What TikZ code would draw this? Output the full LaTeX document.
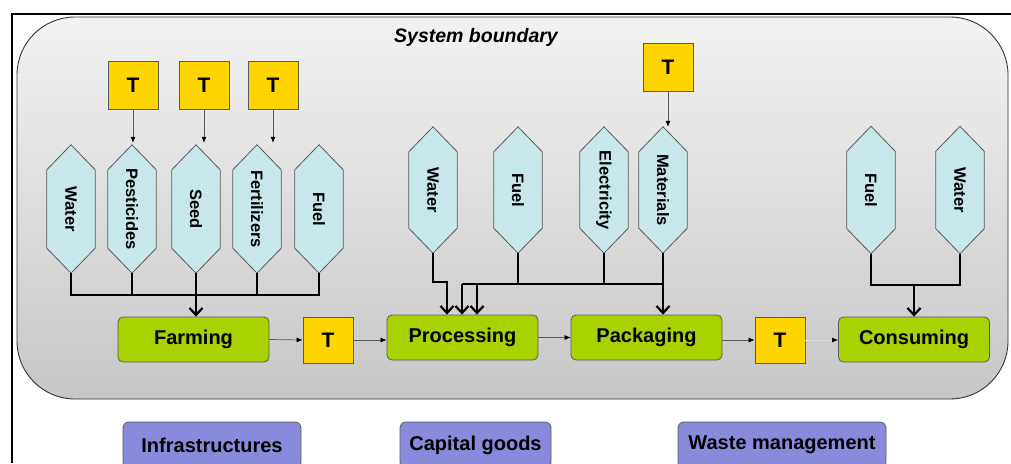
\documentclass[tikz,border=0pt]{standalone}
\usepackage{fontspec}
\setmainfont{Liberation Sans}
\usetikzlibrary{arrows.meta,calc}
\definecolor{hexfill}{HTML}{C8E7EB}
\definecolor{tfill}{HTML}{FFD500}
\definecolor{gfill}{HTML}{A8D200}
\definecolor{pfill}{HTML}{8A8ADC}
\definecolor{edgec}{HTML}{5A5A5A}
\newcommand{\mkhex}[5]{%
  \node[hexbox, minimum height=#4pt] (#1) at (#2,#3) {};
  \filldraw[hexline] (#1.north) -- ([yshift=-25pt]#1.north east) -- ([yshift=25pt]#1.south east) -- (#1.south) -- ([yshift=25pt]#1.south west) -- ([yshift=-25pt]#1.north west) -- cycle;
  \node[hextext,rotate=-90] (#1-t) at (#1) {#5};
}
\begin{document}
\begin{tikzpicture}[x=1pt,y=-1pt,
  hexbox/.style={inner sep=0pt, minimum width=48pt},
  hexline/.style={draw=edgec, fill=hexfill, line width=0.8pt},
  hextext/.style={inner sep=0pt, font=\bfseries\fontsize{16.5}{19}\selectfont},
  tbox/.style={draw=edgec, fill=tfill, line width=0.8pt, minimum width=50pt, minimum height=48pt, inner sep=0pt, font=\bfseries\fontsize{21}{24}\selectfont},
  flow/.style={draw=edgec, fill=gfill, line width=0.8pt, rounded corners=5pt, minimum width=151pt, minimum height=45pt, inner sep=0pt, font=\bfseries\fontsize{20}{24}\selectfont},
  pbox/.style={draw=edgec, fill=pfill, line width=0.8pt, rounded corners=6pt, minimum height=46pt, inner sep=0pt, font=\bfseries\fontsize{20}{24}\selectfont},
  thinarr/.style={draw=edgec, line width=0.7pt, -{Latex[length=6pt,width=5pt,color=black]}},
  bus/.style={draw=black, line width=2pt},
  busarr/.style={bus, -{Straight Barb[length=7pt,width=13pt,line width=2.2pt]}},
  boundary/.style={draw=black!80, line width=0.9pt, rounded corners=58pt, top color=black!5, bottom color=black!22, minimum width=991pt, minimum height=382pt, inner sep=0pt}
]
\path[use as bounding box] (0,0) rectangle (1011,463);
\fill[white] (0,0) rectangle (1011,463);
\draw[line width=2pt] (1011,14) -- (12,14) -- (12,463);

\node[boundary] (sb) at (512.5,208) {};
\node[font=\bfseries\itshape\fontsize{19.5}{23}\selectfont] (sbt) at (476,37) {System boundary};

% farming inputs
\mkhex{fwa}{71}{209}{128}{Water}
\mkhex{fpe}{132}{209}{128}{Pesticides}
\mkhex{fse}{196}{209}{128}{Seed}
\mkhex{ffe}{257}{209}{128}{Fertilizers}
\mkhex{ffu}{319}{209}{128}{Fuel}
\node[tbox] (ft1) at (133,85) {T};
\node[tbox] (ft2) at (204,85) {T};
\node[tbox] (ft3) at (273,85) {T};
\draw[thinarr] (ft1.south) -- ([yshift=2pt]ft1.south |- fpe.north);
\draw[thinarr] (ft2.south) -- ([yshift=2pt]ft2.south |- fse.north);
\draw[thinarr] (ft3.south) -- ([yshift=2pt]ft3.south |- ffe.north);

% processing / packaging inputs
\mkhex{pwa}{433}{190}{126}{Water}
\mkhex{pfu}{518}{190}{126}{Fuel}
\mkhex{pel}{604}{190}{126}{Electricity}
\mkhex{pma}{663}{190}{126}{Materials}
\node[tbox] (tm) at (668,67) {T};
\draw[thinarr] (tm.south) -- (tm.south |- pma.north);

% consuming inputs
\mkhex{cfu}{871}{190}{127}{Fuel}
\mkhex{cwa}{960}{190}{127}{Water}

% main chain
\node[flow] (farm) at (193.5,339.5) {Farming};
\node[tbox, minimum height=46pt] (tt1) at (328,340) {T};
\node[flow] (proc) at (462.5,337.5) {Processing};
\node[flow] (pack) at (646.5,337.5) {Packaging};
\node[tbox, minimum height=46pt] (tt2) at (780,340) {T};
\node[flow] (cons) at (914,339.5) {Consuming};

\draw[thinarr] (farm.east) -- (tt1.west);
\draw[thinarr] (tt1.east) -- (tt1.east -| proc.west);
\draw[thinarr] (proc.east) -- (pack.west);
\draw[thinarr] (pack.east |- tt2) -- (tt2.west);
\draw[thinarr, draw=black!15] (tt2.east) -- (tt2.east -| cons.west);

% farming bus
\coordinate (fbus) at (196,295);
\draw[bus] (fwa.south) -- (fwa.south |- fbus) -- (ffu.south |- fbus) -- (ffu.south);
\draw[bus] (fpe.south) -- (fpe.south |- fbus);
\draw[bus] (fse.south) -- (fse.south |- fbus);
\draw[bus] (ffe.south) -- (ffe.south |- fbus);
\draw[busarr] (fbus) -- (fbus |- farm.north);

% processing bus
\coordinate (pwk) at (447,282);
\coordinate (pbus) at (462,284);
\coordinate (pbus2) at (477,284);
\draw[busarr] (pwa.south) -- (pwa.south |- pwk) -- (pwk) -- (pwk |- proc.north);
\draw[bus] (pbus) -- (pma.south |- pbus);
\draw[bus] (pfu.south) -- (pfu.south |- pbus);
\draw[bus] (pel.south) -- (pel.south |- pbus);
\draw[busarr] (pbus) -- (pbus |- proc.north);
\draw[busarr] (pbus2) -- (pbus2 |- proc.north);
\draw[busarr] (pma.south) -- (pma.south |- pack.north);

% consuming bus
\coordinate (cbus) at (914,285);
\draw[bus] (cfu.south) -- (cfu.south |- cbus) -- (cwa.south |- cbus) -- (cwa.south);
\draw[busarr] (cbus) -- (cbus |- cons.north);

% bottom boxes
\node[pbox, minimum width=178pt] (inf) at (212,445) {Infrastructures};
\node[pbox, minimum width=151pt] (cap) at (475.5,445) {Capital goods};
\node[pbox, minimum width=208pt] (wst) at (782,445) {Waste management};
\end{tikzpicture}
\end{document}
